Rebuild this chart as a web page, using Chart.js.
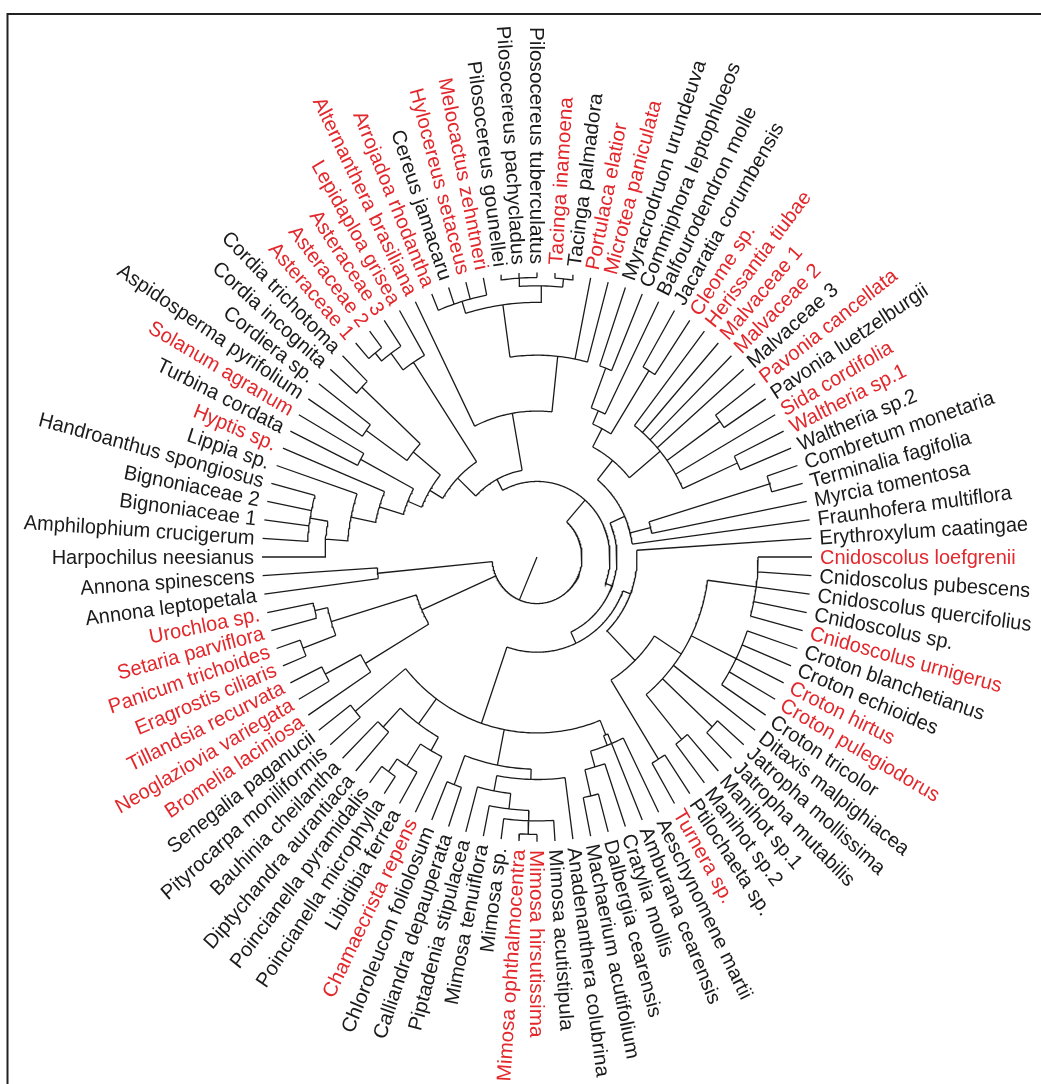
<!DOCTYPE html>
<html>
<head>
<meta charset="utf-8">
<script src="https://cdn.jsdelivr.net/npm/chart.js@4.4.1/dist/chart.umd.min.js"></script>
<style>
  html, body { margin: 0; padding: 0; background: #ffffff; }
  #wrap { width: 1041px; height: 1084px; }
</style>
</head>
<body>
<div id="wrap"><canvas id="tree" width="1041" height="1084"></canvas></div>
<script>
// Tip labels in clockwise order, starting at the 9 o'clock position.
const species = [
  "Harpochilus neesianus", "Amphilophium crucigerum", "Bignoniaceae 1", "Bignoniaceae 2",
  "Handroanthus spongiosus", "Lippia sp.", "Hyptis sp.", "Turbina cordata", "Solanum agranum",
  "Aspidosperma pyrifolium", "Cordiera sp.", "Cordia incognita", "Cordia trichotoma",
  "Asteraceae 1", "Asteraceae 2", "Asteraceae 3", "Lepidaploa grisea", "Alternanthera brasiliana",
  "Arrojadoa rhodantha", "Cereus jamacaru", "Hylocereus setaceus", "Melocactus zehntneri",
  "Pilosocereus gounellei", "Pilosocereus pachycladus", "Pilosocereus tuberculatus",
  "Tacinga inamoena", "Tacinga palmadora", "Portulaca elatior", "Microtea paniculata",
  "Myracrodruon urundeuva", "Commiphora leptophloeos", "Balfourodendron molle",
  "Jacaratia corumbensis", "Cleome sp.", "Herissantia tiubae", "Malvaceae 1", "Malvaceae 2",
  "Malvaceae 3", "Pavonia cancellata", "Pavonia luetzelburgii", "Sida cordifolia",
  "Waltheria sp.1", "Waltheria sp.2", "Combretum monetaria", "Terminalia fagifolia",
  "Myrcia tomentosa", "Fraunhofera multiflora", "Erythroxylum caatingae",
  "Cnidoscolus loefgrenii", "Cnidoscolus pubescens", "Cnidoscolus quercifolius",
  "Cnidoscolus sp.", "Cnidoscolus urnigerus", "Croton blanchetianus", "Croton echioides",
  "Croton hirtus", "Croton pulegiodorus", "Croton tricolor", "Ditaxis malpighiacea",
  "Jatropha mollissima", "Jatropha mutabilis", "Manihot sp.1", "Manihot sp.2",
  "Ptilochaeta sp.", "Turnera sp.", "Aeschynomene martii", "Amburana cearensis",
  "Cratylia mollis", "Dalbergia cearensis", "Machaerium acutifolium", "Anadenanthera colubrina",
  "Mimosa acutistipula", "Mimosa hirsutissima", "Mimosa ophthalmocentra", "Mimosa sp.",
  "Mimosa tenuiflora", "Piptadenia stipulacea", "Calliandra depauperata",
  "Chloroleucon foliolosum", "Chamaecrista repens", "Libidibia ferrea",
  "Poincianella microphylla", "Poincianella pyramidalis", "Diptychandra aurantiaca",
  "Bauhinia cheilantha", "Pityrocarpa moniliformis", "Senegalia paganucii",
  "Bromelia laciniosa", "Neoglaziovia variegata", "Tillandsia recurvata",
  "Eragrostis ciliaris", "Panicum trichoides", "Setaria parviflora", "Urochloa sp.",
  "Annona leptopetala", "Annona spinescens"
];

// Species printed in red.
const highlighted = [
  "Hyptis sp.", "Solanum agranum", "Asteraceae 1", "Asteraceae 2", "Asteraceae 3",
  "Lepidaploa grisea", "Alternanthera brasiliana", "Arrojadoa rhodantha", "Hylocereus setaceus",
  "Melocactus zehntneri", "Tacinga inamoena", "Portulaca elatior", "Microtea paniculata",
  "Cleome sp.", "Herissantia tiubae", "Malvaceae 1", "Malvaceae 2", "Pavonia cancellata",
  "Sida cordifolia", "Waltheria sp.1", "Cnidoscolus loefgrenii", "Cnidoscolus urnigerus",
  "Croton hirtus", "Croton pulegiodorus", "Turnera sp.", "Mimosa hirsutissima",
  "Mimosa ophthalmocentra", "Chamaecrista repens", "Bromelia laciniosa",
  "Neoglaziovia variegata", "Tillandsia recurvata", "Eragrostis ciliaris",
  "Panicum trichoides", "Setaria parviflora", "Urochloa sp."
];

// Clade structure: numbers are tip indices, ":value" is the radius of the clade node.
const asterids =
  "(((((((0,(1,2,3,4):230):212,5):190,6):165,(7,8):200):140,((9,10):210,(11,12):240):160):125," +
  "(((13,14):255,15):245,16):225):110";
const caryophyllales =
  "(17,(((18,19,20,21):258,((22,23,24):270,(25,26):270):262):246,27,28):195):141";
const malvids =
  "((((((29,30):195,31):154,(32,33):212):140," +
  "(34,35,36,37,(38,39):225,40,(41,42):220):160):120," +
  "((43,44):243,45):117,46):96)";
const malpighiales =
  "(47,(((48,49,50,51,52):221,(53,54,55,56,57):222,58,(59,60):240,(61,62):228):172," +
  "(63,64):230):140):100";
const legumes =
  "((66,(65,(67,(68,69):237):211):195):185," +
  "((70,(((71,(72,73):268,74):255,75):245,76):230):215,(77,78):235):205," +
  "((79,(80,(81,82):255):240):215,(83,84):225):200,(85,86):235):170";
const monocots = "((87,(88,89):240):200,((90,91):250,(92,93):228):215):126";
const magnoliids = "(94,95):160";

const topology =
  "(((" + asterids + "," + caryophyllales + "):85,(" + malvids + ",(" + malpighiales + "," +
  legumes + "):92):80):73," + monocots + "," + magnoliids + "):45";

const rootEdgeAngle = 113;          // direction of the root edge, degrees clockwise
const TIP_RADIUS = 275;
const LABEL_GAP = 8;
const START_ANGLE = 180;            // degrees, screen clockwise
const STEP = 360 / species.length;  // angular spacing of tips
const Y_STRETCH = 1.035;            // the figure is drawn slightly taller than wide
const CENTER_X = 537, CENTER_Y = 557, W = 1041, H = 1084;

function parseTree(src) {
  const s = src.replace(/\s+/g, "");
  let p = 0;
  function num() {
    const q = p;
    while (p < s.length && /[0-9.\-]/.test(s[p])) p++;
    return parseFloat(s.slice(q, p));
  }
  function node() {
    if (s[p] === "(") {
      p++;
      const kids = [node()];
      while (s[p] === ",") { p++; kids.push(node()); }
      p++;
      let r = NaN;
      if (s[p] === ":") { p++; r = num(); }
      const n = { kids, r };
      // a single-child group is just its child
      return kids.length === 1 && isNaN(r) ? kids[0] : n;
    }
    return { leaf: num() };
  }
  return node();
}

// Place every node: tips are evenly spaced, an inner node sits at the mean angle of its children.
function place(n) {
  if (n.kids === undefined) {
    n.a = START_ANGLE + STEP * n.leaf;
    n.r = TIP_RADIUS;
    return;
  }
  n.kids.forEach(place);
  n.a = n.kids.reduce((s, k) => s + k.a, 0) / n.kids.length;
}

const root = parseTree(topology);
place(root);

const rad = d => d * Math.PI / 180;
const toXY = (r, a) => ({ x: r * Math.cos(rad(a)), y: -r * Math.sin(rad(a)) });
const GAP = { x: NaN, y: NaN };

const branchPoints = [];
function addRadial(r0, r1, a) {
  branchPoints.push(toXY(r0, a), toXY(r1, a), GAP);
}
function addArc(r, a0, a1) {
  const n = Math.max(2, Math.ceil((a1 - a0) / 0.75));
  for (let i = 0; i <= n; i++) branchPoints.push(toXY(r, a0 + (a1 - a0) * i / n));
  branchPoints.push(GAP);
}
function collect(n) {
  if (!n.kids) return;
  const angles = n.kids.map(k => k.a);
  addArc(n.r, Math.min(...angles), Math.max(...angles));
  n.kids.forEach(k => { addRadial(n.r, k.r, k.a); collect(k); });
}
addRadial(0, root.r, rootEdgeAngle);
collect(root);

const RED = "#e2282c";
const INK = "#1b1b1b";

const tipLabels = {
  id: "tipLabels",
  afterDatasetsDraw(chart) {
    const { ctx, scales } = chart;
    ctx.save();
    ctx.font = '20px "Liberation Sans", Arial, sans-serif';
    ctx.textBaseline = "middle";
    species.forEach((name, i) => {
      const a = START_ANGLE + STEP * i;
      const p = toXY(TIP_RADIUS + LABEL_GAP, a);
      const px = scales.x.getPixelForValue(p.x);
      const py = scales.y.getPixelForValue(p.y);
      const m = ((a % 360) + 360) % 360;
      const flipped = m > 90 && m <= 270;
      ctx.save();
      ctx.translate(px, py);
      ctx.scale(1, Y_STRETCH);
      ctx.rotate(rad(flipped ? a - 180 : a));
      ctx.textAlign = flipped ? "right" : "left";
      ctx.fillStyle = highlighted.includes(name) ? RED : INK;
      ctx.fillText(name, 0, 1);
      ctx.restore();
    });
    ctx.restore();
  }
};

const pageFrame = {
  id: "pageFrame",
  beforeDraw(chart) {
    const { ctx, width, height } = chart;
    ctx.save();
    ctx.fillStyle = "#ffffff";
    ctx.fillRect(0, 0, width, height);
    ctx.strokeStyle = "#222222";
    ctx.lineWidth = 2;
    ctx.beginPath();
    ctx.moveTo(7.5, height);
    ctx.lineTo(7.5, 14);
    ctx.lineTo(width, 14);
    ctx.stroke();
    ctx.restore();
  }
};

new Chart(document.getElementById("tree"), {
  type: "scatter",
  data: {
    datasets: [{
      data: branchPoints,
      showLine: true,
      spanGaps: false,
      borderColor: INK,
      borderWidth: 1.3,
      pointRadius: 0,
      tension: 0
    }]
  },
  options: {
    responsive: false,
    animation: false,
    events: [],
    layout: { padding: 0 },
    plugins: { legend: { display: false }, tooltip: { enabled: false } },
    scales: {
      x: { type: "linear", display: false, min: -CENTER_X, max: W - CENTER_X },
      y: { type: "linear", display: false,
           min: -(H - CENTER_Y) / Y_STRETCH, max: CENTER_Y / Y_STRETCH }
    }
  },
  plugins: [pageFrame, tipLabels]
});
</script>
</body>
</html>
